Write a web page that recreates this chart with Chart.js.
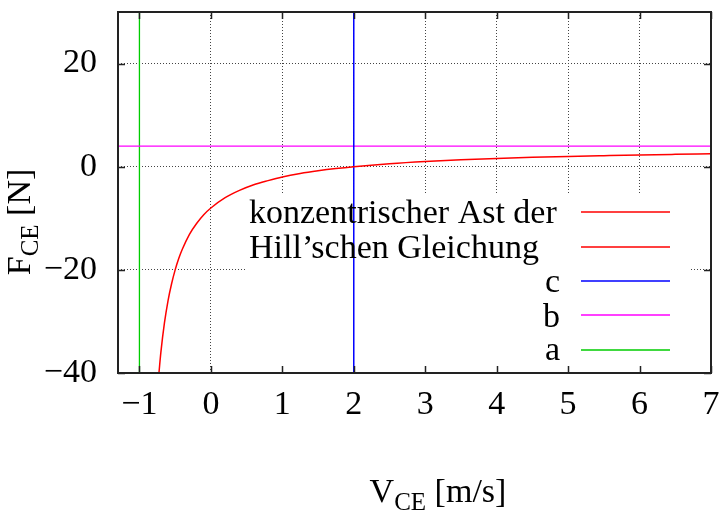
<!DOCTYPE html>
<html>
<head>
<meta charset="utf-8">
<script src="https://cdn.jsdelivr.net/npm/chart.js@4/dist/chart.umd.min.js"></script>
<style>
  html, body { margin: 0; padding: 0; background: #fff; }
  #wrap { width: 722px; height: 511px; }
</style>
</head>
<body>
<div id="wrap"><canvas id="hillChart"></canvas></div>
<script>
// values
const curveX = [-0.727, -0.7, -0.65, -0.6, -0.55, -0.5, -0.45, -0.4, -0.3, -0.2, -0.1, 0, 0.2, 0.4, 0.6, 0.8, 1, 1.25, 1.5, 1.75, 2, 2.5, 3, 3.5, 4, 4.5, 5, 5.5, 6, 6.5, 7];
const curveY = [-40, -36, -30.3, -26, -22.7, -20, -17.8, -16, -13.1, -11, -9.3, -8, -6, -4.6, -3.5, -2.7, -2, -1.33, -0.8, -0.36, 0, 0.57, 1, 1.33, 1.6, 1.82, 2, 2.15, 2.29, 2.4, 2.5];
const cX = [-1, 2, 2];
const cY = [30, 30, -40];
const bX = [-1.3, 7];
const bY = [4, 4];
const aX = [-1.3, -1, -1];
const aY = [30, 30, -40];
const xTicks = [-1, 0, 1, 2, 3, 4, 5, 6, 7];
const yTicks = [-40, -20, 0, 20];
const seriesLabels = ['konzentrischer Ast der\nHill’schen Gleichung', 'c', 'b', 'a'];
const seriesColors = ['#ff0000', '#0000ff', '#ff00ff', '#00cc00'];

const SERIF = '"Liberation Serif", "Times New Roman", serif';
const fmt = v => String(v).replace('-', '\u2212');
const toPoints = (xs, ys) => xs.map((x, i) => ({ x: x, y: ys[i] }));

const legendBox = { left: 245, top: 195, right: 690 };

const framePlugin = {
    id: 'frame',
    beforeDatasetsDraw(chart) {
        const ctx = chart.ctx, area = chart.chartArea;
        ctx.save();
        ctx.fillStyle = '#fff';
        ctx.fillRect(legendBox.left, legendBox.top, legendBox.right - legendBox.left, area.bottom - legendBox.top - 1);
        ctx.restore();
    },
    afterDatasetsDraw(chart) {
        const ctx = chart.ctx, area = chart.chartArea;
        const xs = chart.scales.x, ys = chart.scales.y;
        ctx.save();

        // legend
        ctx.font = '34px ' + SERIF;
        ctx.fillStyle = '#000';
        ctx.textBaseline = 'alphabetic';
        const lines = seriesLabels[0].split('\n');
        ctx.textAlign = 'left';
        ctx.fillText(lines[0], 249, 223);
        ctx.fillText(lines[1], 249, 258);
        ctx.textAlign = 'right';
        ctx.fillText(seriesLabels[1], 560, 292);
        ctx.fillText(seriesLabels[2], 560, 327);
        ctx.fillText(seriesLabels[3], 560, 360);
        const keyY = [212, 247, 281, 315, 350];
        const keyCol = [seriesColors[0], seriesColors[0], seriesColors[1], seriesColors[2], seriesColors[3]];
        ctx.lineWidth = 1.5;
        keyY.forEach((y, i) => {
            ctx.strokeStyle = keyCol[i];
            ctx.beginPath();
            ctx.moveTo(581, y);
            ctx.lineTo(670, y);
            ctx.stroke();
        });

        // inward ticks on all four sides
        ctx.strokeStyle = '#222';
        ctx.lineWidth = 1.5;
        const len = 7;
        xTicks.forEach(v => {
            const px = Math.round(xs.getPixelForValue(v)) + 0.5;
            ctx.beginPath();
            ctx.moveTo(px, area.bottom); ctx.lineTo(px, area.bottom - len);
            ctx.moveTo(px, area.top); ctx.lineTo(px, area.top + len);
            ctx.stroke();
        });
        yTicks.forEach(v => {
            const py = Math.round(ys.getPixelForValue(v)) + 0.5;
            ctx.beginPath();
            ctx.moveTo(area.left, py); ctx.lineTo(area.left + len, py);
            ctx.moveTo(area.right, py); ctx.lineTo(area.right - len, py);
            ctx.stroke();
        });

        // border
        ctx.lineWidth = 2;
        ctx.strokeRect(area.left, area.top, area.right - area.left, area.bottom - area.top);
        ctx.restore();
    },
    afterDraw(chart) {
        const ctx = chart.ctx;
        ctx.save();
        ctx.fillStyle = '#000';
        ctx.textBaseline = 'alphabetic';
        ctx.textAlign = 'left';
        const big = '34px ' + SERIF, small = '25px ' + SERIF;

        // x axis title
        ctx.font = big; const wV = ctx.measureText('V').width;
        ctx.font = small; const wCE = ctx.measureText('CE').width;
        ctx.font = big; const wU = ctx.measureText(' [m/s]').width;
        let x0 = 438 - (wV + wCE + wU) / 2;
        ctx.font = big; ctx.fillText('V', x0, 502);
        ctx.font = small; ctx.fillText('CE', x0 + wV, 510);
        ctx.font = big; ctx.fillText(' [m/s]', x0 + wV + wCE, 502);

        // y axis title
        ctx.translate(30, 222);
        ctx.rotate(-Math.PI / 2);
        ctx.font = big; const wF = ctx.measureText('F').width;
        const wN = ctx.measureText(' [N]').width;
        let y0 = -(wF + wCE + wN) / 2;
        ctx.fillText('F', y0, 0);
        ctx.font = small; ctx.fillText('CE', y0 + wF, 8);
        ctx.font = big; ctx.fillText(' [N]', y0 + wF + wCE, 0);
        ctx.restore();
    }
};

const lineSet = (label, xs, ys, color, width) => ({
    label: label,
    data: toPoints(xs, ys),
    borderColor: color,
    backgroundColor: color,
    borderWidth: width,
    pointRadius: 0,
    fill: false
});

const datasets = [
    Object.assign(lineSet(seriesLabels[0], curveX, curveY, seriesColors[0], 1.5), { cubicInterpolationMode: 'monotone' }),
    lineSet(seriesLabels[1], cX, cY, seriesColors[1], 1.5),
    lineSet(seriesLabels[2], bX, bY, seriesColors[2], 1.3),
    lineSet(seriesLabels[3], aX, aY, seriesColors[3], 1.3)
];

new Chart(document.getElementById('hillChart'), {
    type: 'line',
    data: { datasets: datasets },
    plugins: [framePlugin],
    options: {
        responsive: true,
        maintainAspectRatio: false,
        animation: false,
        layout: { padding: { top: 12, right: 11, left: 0, bottom: 0 } },
        plugins: { legend: { display: false }, tooltip: { enabled: false } },
        scales: {
            x: {
                type: 'linear',
                min: -1.3,
                max: 7,
                afterBuildTicks: s => { s.ticks = xTicks.map(v => ({ value: v })); },
                afterFit: s => { s.height = 138; s.paddingLeft = 0; s.paddingRight = 0; },
                ticks: {
                    font: { family: SERIF, size: 34 },
                    color: '#000',
                    padding: 12,
                    maxRotation: 0,
                    autoSkip: false,
                    callback: v => fmt(v)
                },
                grid: { color: '#444', lineWidth: 1, drawTicks: false },
                border: { display: false, dash: [1, 2] }
            },
            y: {
                type: 'linear',
                min: -40,
                max: 30,
                afterBuildTicks: s => { s.ticks = yTicks.map(v => ({ value: v })); },
                afterFit: s => { s.width = 118; s.paddingTop = 0; s.paddingBottom = 0; },
                ticks: {
                    font: { family: SERIF, size: 34 },
                    color: '#000',
                    padding: 21,
                    autoSkip: false,
                    callback: v => fmt(v)
                },
                grid: { color: '#444', lineWidth: 1, drawTicks: false },
                border: { display: false, dash: [1, 2] }
            }
        }
    }
});
</script>
</body>
</html>
